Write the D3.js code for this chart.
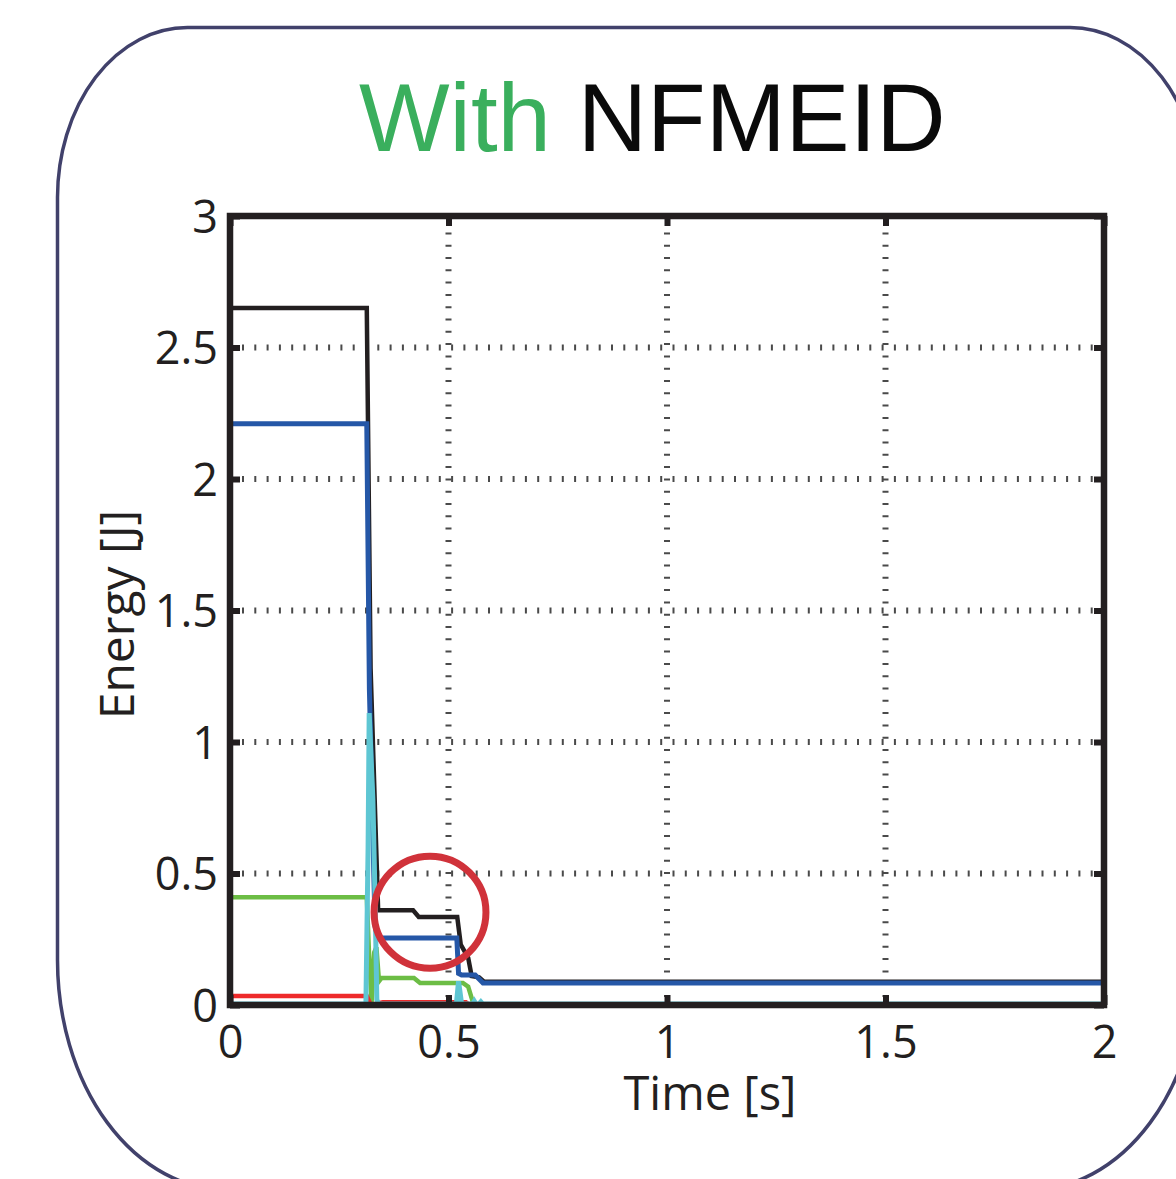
<!DOCTYPE html>
<html>
<head>
<meta charset="utf-8">
<script src="https://cdn.jsdelivr.net/npm/d3@7"></script>
<style>
  html, body { margin: 0; padding: 0; background: #fff; }
  svg { display: block; }
</style>
</head>
<body>
<script>
// tick values
const xTicks = [0, 0.5, 1, 1.5, 2];
const yTicks = [0, 0.5, 1, 1.5, 2, 2.5, 3];
const xTickLabels = ["0", "0.5", "1", "1.5", "2"];
const yTickLabels = ["0", "0.5", "1", "1.5", "2", "2.5", "3"];

// series (time [s], energy [J])
const tBlack = [0, 0.0005, 0.313, 0.3217, 0.339, 0.419, 0.432, 0.520, 0.528, 0.545, 0.553, 0.570, 0.582, 2.0];
const eBlack = [0, 2.65, 2.65, 1.28, 0.36, 0.36, 0.335, 0.335, 0.23, 0.18, 0.11, 0.105, 0.088, 0.088];

const tBlue = [0, 0.0005, 0.313, 0.319, 0.332, 0.338, 0.519, 0.523, 0.530, 0.561, 0.579, 2.0];
const eBlue = [0, 2.21, 2.21, 1.2, 0.30, 0.255, 0.255, 0.12, 0.114, 0.114, 0.084, 0.084];

const tGreen = [0, 0.0005, 0.313, 0.318, 0.324, 0.330, 0.335, 0.341, 0.347, 0.421, 0.435, 0.533, 0.545, 0.556, 0.565, 2.0];
const eGreen = [0, 0.41, 0.41, 0.2, 0.01, 0.2, 0.22, 0.09, 0.103, 0.103, 0.084, 0.084, 0.07, 0.01, 0.003, 0.003];

const tRed = [0, 0.0005, 0.313, 0.322, 0.350, 0.540, 0.548, 2.0];
const eRed = [0, 0.034, 0.034, 0.0, 0.01, 0.01, 0.0, 0.0];

const tCyan = [0, 0.311, 0.316, 0.3185, 0.327, 0.332, 0.336, 0.340, 0.518, 0.523, 0.530, 0.555, 0.559, 0.563, 0.570, 0.574, 0.578, 2.0];
const eCyan = [0.004, 0.004, 0.6, 1.11, 0.78, 0.40, 0.02, 0.004, 0.004, 0.09, 0.004, 0.004, 0.015, 0.004, 0.004, 0.012, 0.004, 0.004];

// highlight circle (data coords + radii in data units)
const markCenter = [0.4577, 0.353];
const markRadius = [0.128, 0.213];

const W = 1176, H = 1179;
const plot = { left: 230, right: 1104, top: 216, bottom: 1005 };

const svg = d3.select("body").append("svg")
    .attr("width", W)
    .attr("height", H);

// rounded outer frame (corners differ a bit, top vs bottom)
function roundedFrame(x0, y0, x1, y1, tr, br) {
  return `M${x0 + tr[0]},${y0}` +
    `L${x1 - tr[0]},${y0}` +
    `A${tr[0]},${tr[1]} 0 0 1 ${x1},${y0 + tr[1]}` +
    `L${x1},${y1 - br[1]}` +
    `A${br[0]},${br[1]} 0 0 1 ${x1 - br[0]},${y1}` +
    `L${x0 + br[0]},${y1}` +
    `A${br[0]},${br[1]} 0 0 1 ${x0},${y1 - br[1]}` +
    `L${x0},${y0 + tr[1]}` +
    `A${tr[0]},${tr[1]} 0 0 1 ${x0 + tr[0]},${y0}Z`;
}

svg.append("path")
    .attr("d", roundedFrame(57.5, 27.5, 1200, 1190, [130, 170], [170, 230]))
    .attr("fill", "none")
    .attr("stroke", "#41416b")
    .attr("stroke-width", 3.5);

// title
const title = svg.append("text")
    .attr("x", 359)
    .attr("y", 151)
    .style("font-family", "'Liberation Sans', Arial, sans-serif")
    .style("font-size", "96px");
title.append("tspan").attr("fill", "#3aaf5d").text("With");
title.append("tspan").attr("fill", "#0a0a0a").text(" NFMEID");

const x = d3.scaleLinear().domain([0, 2]).range([plot.left, plot.right]);
const y = d3.scaleLinear().domain([0, 3]).range([plot.bottom, plot.top]);

// dotted grid
const grid = svg.append("g")
    .attr("stroke", "#4a4a4a")
    .attr("stroke-width", 6)
    .attr("stroke-dasharray", "2,10.3");

grid.selectAll(".gx")
  .data(xTicks.slice(1, -1))
  .join("line")
    .attr("x1", d => x(d)).attr("x2", d => x(d))
    .attr("y1", plot.bottom - 8).attr("y2", plot.top + 6);

grid.selectAll(".gy")
  .data(yTicks.slice(1, -1))
  .join("line")
    .attr("y1", d => y(d)).attr("y2", d => y(d))
    .attr("x1", plot.left + 12).attr("x2", plot.right - 6);

// series
const series = [
  { t: tBlack, e: eBlack, color: "#231f20", width: 4.5 },
  { t: tBlue, e: eBlue, color: "#2557a7", width: 5 },
  { t: tGreen, e: eGreen, color: "#6cbd45", width: 4.5 },
  { t: tRed, e: eRed, color: "#ee2a2b", width: 4.5 },
  { t: tCyan, e: eCyan, color: "#5ec6d3", width: 5 }
];

const line = d3.line()
    .x(d => x(d[0]))
    .y(d => y(d[1]));

svg.append("g")
  .selectAll("path")
  .data(series)
  .join("path")
    .attr("d", s => line(d3.zip(s.t, s.e)))
    .attr("fill", "none")
    .attr("stroke", s => s.color)
    .attr("stroke-width", s => s.width)
    .attr("stroke-linejoin", "miter");

// axes: ticks pointing inward on all four sides
const tickFont = "'Open Sans', 'Noto Sans', sans-serif";

const axL = svg.append("g")
    .attr("transform", `translate(${plot.left},0)`)
    .call(d3.axisLeft(y).tickValues(yTicks).tickSize(-10).tickPadding(12)
      .tickFormat((d, i) => yTickLabels[i]));
const axB = svg.append("g")
    .attr("transform", `translate(0,${plot.bottom})`)
    .call(d3.axisBottom(x).tickValues(xTicks).tickSize(-10).tickPadding(21)
      .tickFormat((d, i) => xTickLabels[i]));
const axR = svg.append("g")
    .attr("transform", `translate(${plot.right},0)`)
    .call(d3.axisRight(y).tickValues(yTicks).tickSize(-10).tickFormat(""));
const axT = svg.append("g")
    .attr("transform", `translate(0,${plot.top})`)
    .call(d3.axisTop(x).tickValues(xTicks).tickSize(-10).tickFormat(""));

[axL, axB, axR, axT].forEach(a => {
  a.select(".domain").remove();
  a.selectAll(".tick line").attr("stroke", "#231f20").attr("stroke-width", 6);
  a.selectAll(".tick text")
    .attr("fill", "#231f20")
    .style("font-family", tickFont)
    .style("font-size", "45px");
});
axL.selectAll(".tick text").attr("dy", "0.36em");
axB.selectAll(".tick text").attr("dy", "0.71em");

// plot frame
svg.append("rect")
    .attr("x", plot.left).attr("y", plot.top)
    .attr("width", plot.right - plot.left)
    .attr("height", plot.bottom - plot.top)
    .attr("fill", "none")
    .attr("stroke", "#231f20")
    .attr("stroke-width", 6.5);

// axis labels
svg.append("text")
    .attr("x", 710)
    .attr("y", 1110)
    .attr("text-anchor", "middle")
    .attr("fill", "#231f20")
    .style("font-family", tickFont)
    .style("font-size", "47px")
    .text("Time [s]");

svg.append("text")
    .attr("transform", `translate(134,${(plot.top + plot.bottom) / 2 + 4}) rotate(-90)`)
    .attr("text-anchor", "middle")
    .attr("fill", "#231f20")
    .style("font-family", tickFont)
    .style("font-size", "48px")
    .text("Energy [J]");

// red highlight circle
svg.append("ellipse")
    .attr("cx", x(markCenter[0]))
    .attr("cy", y(markCenter[1]))
    .attr("rx", x(markCenter[0] + markRadius[0]) - x(markCenter[0]))
    .attr("ry", y(markCenter[1]) - y(markCenter[1] + markRadius[1]))
    .attr("fill", "none")
    .attr("stroke", "#d0323a")
    .attr("stroke-width", 7);
</script>
</body>
</html>
